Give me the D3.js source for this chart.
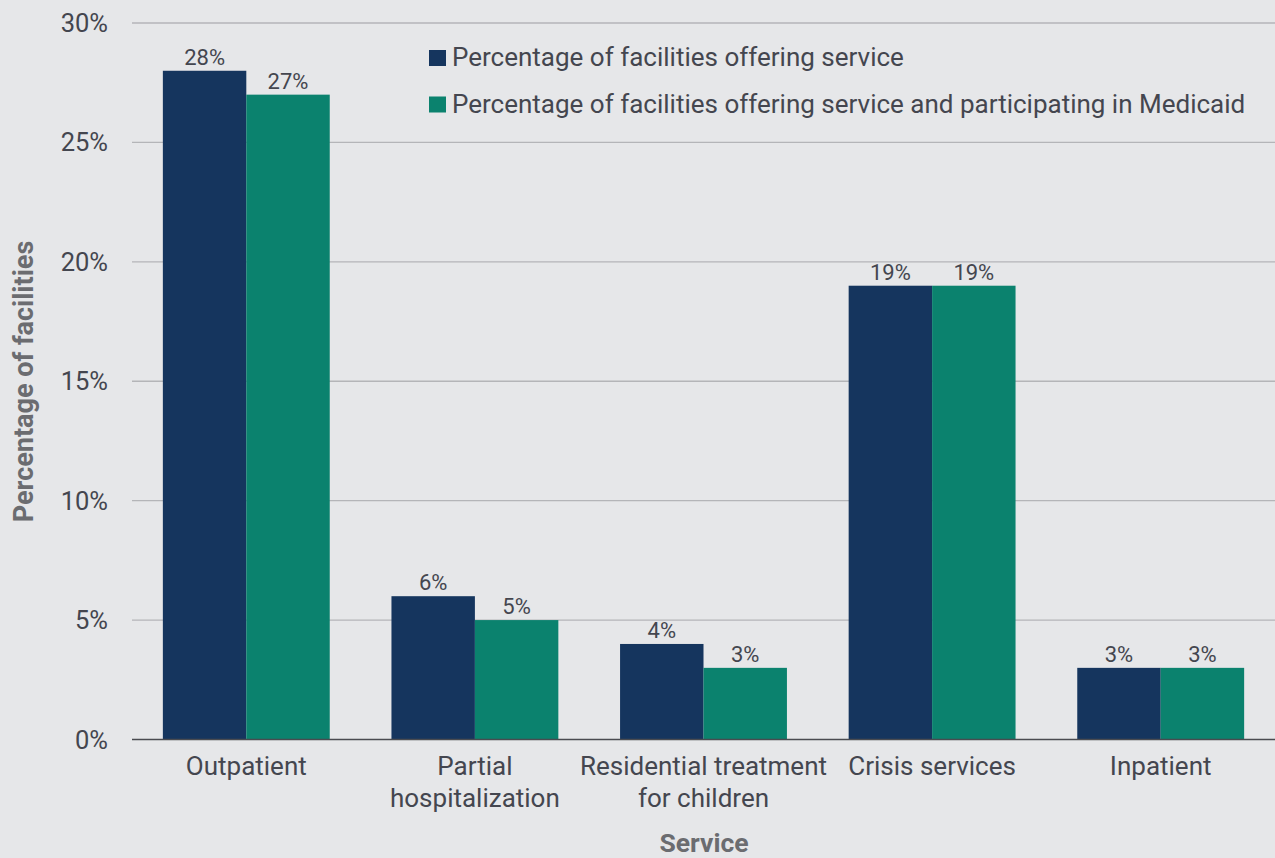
<!DOCTYPE html>
<html>
<head>
<meta charset="utf-8">
<script src="https://cdn.jsdelivr.net/npm/d3@7"></script>
<style>
html,body{margin:0;padding:0;background:#e6e7e9;}
svg{display:block;font-family:Roboto,"Noto Sans",sans-serif;}
</style>
</head>
<body>
<svg id="chart" width="1275" height="858"></svg>
<script>
const categories = ["Outpatient", "Partial hospitalization", "Residential treatment for children", "Crisis services", "Inpatient"];
const categoryLines = [["Outpatient"], ["Partial", "hospitalization"], ["Residential treatment", "for children"], ["Crisis services"], ["Inpatient"]];
const seriesNames = ["Percentage of facilities offering service", "Percentage of facilities offering service and participating in Medicaid"];
const offering = [28, 6, 4, 19, 3];
const offeringMedicaid = [27, 5, 3, 19, 3];
const yTicks = [0, 5, 10, 15, 20, 25, 30];
const colors = ["#15355e", "#0b826e"];

(function () {
const svg = d3.select("#chart");
const W = 1275, H = 858;
const mLeft = 132, mRight = 1275, mTop = 23, mBottom = 739.5;

svg.append("rect").attr("width", W).attr("height", H).attr("fill", "#e6e7e9");

const x0 = d3.scaleBand().domain(categories).range([mLeft, mRight]).paddingInner(0.27).paddingOuter(0.135);
const x1 = d3.scaleBand().domain([0, 1]).range([0, x0.bandwidth()]);
const y = d3.scaleLinear().domain([0, 30]).range([mBottom, mTop]);

// gridlines
svg.append("g").selectAll("line").data(yTicks.filter(t => t > 0)).join("line")
  .attr("x1", mLeft).attr("x2", mRight)
  .attr("y1", d => y(d)).attr("y2", d => y(d))
  .attr("stroke", "#b4b5b8").attr("stroke-width", 1.3);

// y tick labels
svg.append("g").selectAll("text").data(yTicks).join("text")
  .attr("x", 108).attr("y", d => y(d) + 9)
  .attr("text-anchor", "end")
  .attr("font-size", 25.5).attr("fill", "#44464f")
  .text(d => d + "%");

const data = categories.map((c, i) => ({c, vals: [offering[i], offeringMedicaid[i]]}));

const groups = svg.append("g").selectAll("g").data(data).join("g")
  .attr("transform", d => `translate(${x0(d.c)},0)`);

groups.selectAll("rect").data(d => d.vals.map((v, k) => ({v, k}))).join("rect")
  .attr("x", d => x1(d.k)).attr("width", x1.bandwidth())
  .attr("y", d => y(d.v)).attr("height", d => y(0) - y(d.v))
  .attr("fill", d => colors[d.k]);

groups.selectAll("text.val").data(d => d.vals.map((v, k) => ({v, k}))).join("text")
  .attr("class", "val")
  .attr("x", d => x1(d.k) + x1.bandwidth() / 2)
  .attr("y", d => y(d.v) - 6)
  .attr("text-anchor", "middle")
  .attr("font-size", 22).attr("fill", "#44464f")
  .text(d => d.v + "%");

// x axis line
svg.append("line").attr("x1", mLeft).attr("x2", mRight)
  .attr("y1", mBottom).attr("y2", mBottom)
  .attr("stroke", "#4a4b50").attr("stroke-width", 1.5);

// category labels
const catG = svg.append("g").selectAll("text").data(categories).join("text")
  .attr("x", d => x0(d) + x0.bandwidth() / 2)
  .attr("text-anchor", "middle")
  .attr("font-size", 26).attr("fill", "#44464f");
catG.each(function(d, i) {
  const t = d3.select(this);
  categoryLines[i].forEach((line, j) => {
    t.append("tspan").attr("x", x0(d) + x0.bandwidth() / 2).attr("y", 775 + j * 32).text(line);
  });
});

// axis titles
svg.append("text").attr("x", 704).attr("y", 852)
  .attr("text-anchor", "middle").attr("font-size", 26.5).attr("font-weight", "bold")
  .attr("fill", "#6b6c70").text("Service");

svg.append("text").attr("transform", `translate(33,381.5) rotate(-90)`)
  .attr("text-anchor", "middle").attr("font-size", 27).attr("font-weight", "bold")
  .attr("fill", "#6b6c70").text("Percentage of facilities");

// legend
const legend = svg.append("g").selectAll("g").data(seriesNames).join("g")
  .attr("transform", (d, i) => `translate(429,${50 + i * 46.5})`);
legend.append("rect").attr("width", 17).attr("height", 16).attr("fill", (d, i) => colors[i]);
legend.append("text").attr("x", 23).attr("y", 16)
  .attr("font-size", 26).attr("fill", "#44464f").text(d => d);
})();
</script>
</body>
</html>
